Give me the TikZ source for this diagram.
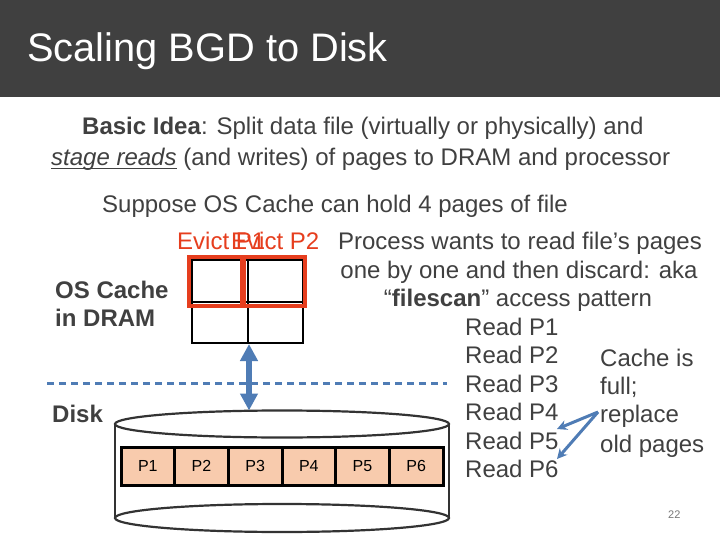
\documentclass[tikz,border=0pt]{standalone}
\usepackage{fontspec}
\setmainfont{Liberation Sans}
\usetikzlibrary{arrows.meta}
\definecolor{txtgray}{RGB}{64,64,64}
\definecolor{bandgray}{RGB}{64,64,64}
\definecolor{evred}{RGB}{230,62,30}
\definecolor{arrblue}{RGB}{79,124,181}
\definecolor{peach}{RGB}{248,203,173}
\definecolor{pnum}{RGB}{120,120,120}
\newcommand\myuline[1]{\setbox0\hbox{#1}\rlap{\rule[-3pt]{\wd0}{1.4pt}}\box0\relax}
\tikzset{
  txt/.style={inner sep=0pt, anchor=base west, text=txtgray, font=\fontsize{24}{28}\selectfont},
  ctxt/.style={inner sep=0pt, anchor=base, text=txtgray, font=\fontsize{24}{28}\selectfont},
  lbl/.style={inner sep=0pt, anchor=base west, text=txtgray, font=\fontsize{24}{28}\selectfont\bfseries},
  evtxt/.style={inner sep=0pt, anchor=base west, text=evred, font=\fontsize{24}{28}\selectfont},
  evbox/.style={draw=evred, line width=4pt},
  pagebox/.style={draw=black, line width=3pt, fill=peach, minimum width=53.67pt, minimum height=38pt, inner sep=0pt, font=\fontsize{16}{18}\selectfont},
  cachebox/.style={draw=black, line width=2pt, minimum width=111pt, minimum height=83pt, inner sep=0pt},
  disk/.style={draw=black!80, line width=2.2pt},
  dblarrow/.style={draw=arrblue, line width=6pt, {Triangle[width=17pt,length=17pt]}-{Triangle[width=17pt,length=17pt]}},
  ptr/.style={draw=arrblue, line width=3pt, -{Stealth[width=10pt,length=10pt]}},
  sep/.style={draw=arrblue, line width=3.5pt, dash pattern=on 7pt off 5pt}
}
\begin{document}
\begin{tikzpicture}[x=1pt,y=-1pt]
\useasboundingbox (0,0) rectangle (720,540);
\fill[white] (0,0) rectangle (720,540);
% header
\fill[bandgray] (0,0) rectangle (720,97);
\node[inner sep=0pt, anchor=base west, text=white, font=\fontsize{39.8}{44}\selectfont] (title) at (27,62) {Scaling BGD to Disk};
% intro text
\node[txt] (l1) at (82,135) {\textbf{Basic Idea}: Split data file (virtually or physically) and};
\node[txt] (l2) at (51,166) {\myuline{\textit{stage reads}} (and writes) of pages to DRAM and processor};
\node[txt] (l3) at (102,213) {Suppose OS Cache can hold 4 pages of file};
% evict labels
\node[evtxt] (ev1) at (177,249) {Evict P1};
\node[evtxt] (ev2) at (231,249) {Evict P2};
% cache
\node[cachebox] (cache) at (247.5,301.5) {};
\draw[line width=2pt] (cache.north) -- (cache.south);
\draw[line width=2pt] (cache.west) -- (cache.east);
\draw[evbox] (188.5,256.5) rectangle (241.5,305.5);
\draw[evbox] (244,256.5) rectangle (304.5,305.5);
\node[lbl] (osc) at (55,298) {OS Cache};
\node[lbl] (dram) at (55,326) {in DRAM};
% separator
\coordinate (sepL) at (47,383.5);
\coordinate (sepR) at (447,383.5);
\draw[sep] (sepL) -- (sepR);
\node[lbl] (disklbl) at (52,422) {Disk};
% disk cylinder
\coordinate (disktop) at (249,410.5);
\draw[disk] (115,424) -- (115,518);
\draw[disk] (449,424) -- (449,518);
\draw[disk] (282,424) ellipse [x radius=167, y radius=13.5];
\draw[disk] (282,518) ellipse [x radius=167, y radius=14];
% pages
\foreach \i in {1,...,6}{
  \node[pagebox] (p\i) at ({121+53.67*(\i-0.5)},466) {P\i};
}
% double arrow
\draw[dblarrow] ([xshift=1.5pt]cache.south) -- (disktop);
% right text
\node[ctxt] (r1) at (520,249) {Process wants to read file’s pages};
\node[ctxt] (r2) at (519,278) {one by one and then discard: aka};
\node[ctxt] (r3) at (518,306) {“\textbf{filescan}” access pattern};
\node[txt] (rd1) at (465,335) {Read P1};
\node[txt] (rd2) at (465,363) {Read P2};
\node[txt] (rd3) at (465,392) {Read P3};
\node[txt] (rd4) at (465,420) {Read P4};
\node[txt] (rd5) at (465,449) {Read P5};
\node[txt] (rd6) at (465,477) {Read P6};
\node[txt] (c1) at (600,366) {Cache is};
\node[txt] (c2) at (600,394) {full;};
\node[txt] (c3) at (600,422) {replace};
\node[txt] (c4) at (600,452) {old pages};
\coordinate (src) at (598,412);
\coordinate (t5) at (557,429);
\coordinate (t6) at (557,459);
\draw[ptr] (src) -- (t5);
\draw[ptr] (src) -- (t6);
% page number
\node[inner sep=0pt, anchor=base west, text=pnum, font=\fontsize{11}{13}\selectfont] (pg) at (668,518) {22};
\end{tikzpicture}
\end{document}
